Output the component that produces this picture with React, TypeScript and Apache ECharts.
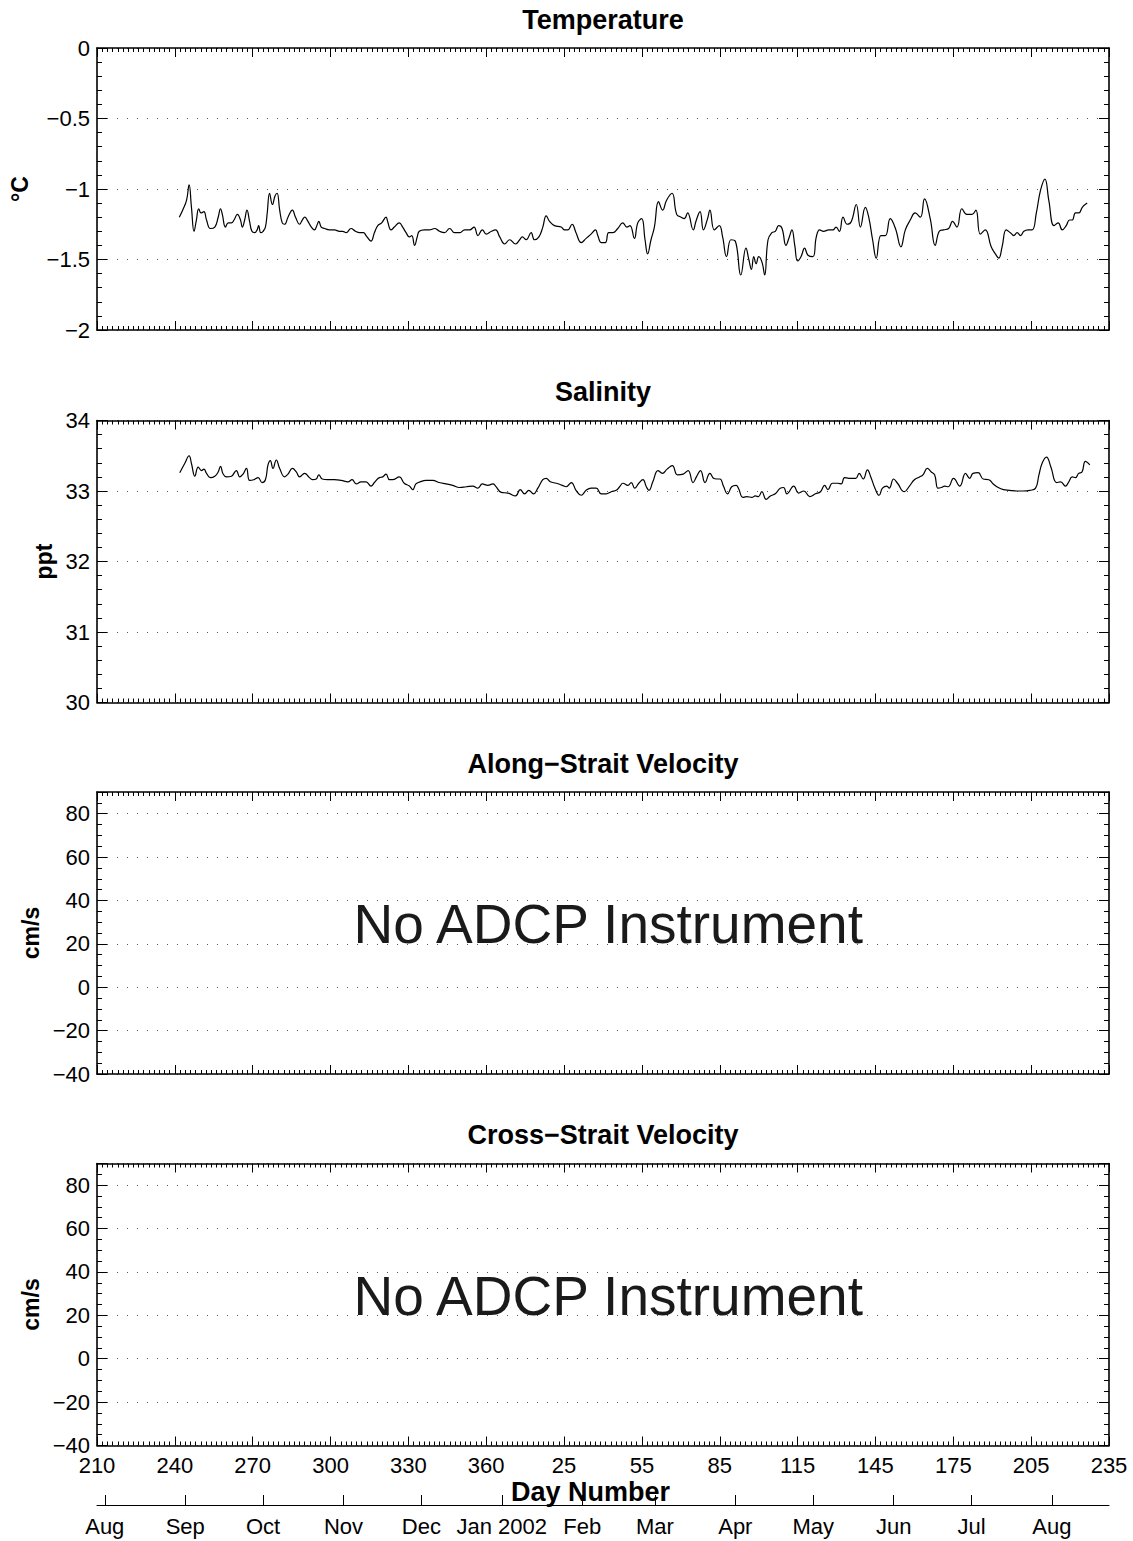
import React, { useEffect, useRef } from 'react';
import * as echarts from 'echarts';

// ---------------------------------------------------------------------------
// Data
// ---------------------------------------------------------------------------

// Continuous day axis: 2001 day numbers, then 2002 days offset by 365.
const dayMin = 210;
const dayMax = 600;
const dayStep = 30;

// Month boundaries on the continuous day axis and their labels.
const monthDays = [213, 244, 274, 305, 335, 366, 397, 425, 456, 486, 517, 547, 578];
const monthNames = ['Aug', 'Sep', 'Oct', 'Nov', 'Dec', 'Jan 2002', 'Feb', 'Mar', 'Apr', 'May', 'Jun', 'Jul', 'Aug'];

const panelTitles = ['Temperature', 'Salinity', 'Along\u2212Strait Velocity', 'Cross\u2212Strait Velocity'];
const panelUnits = ['\u00B0C', 'ppt', 'cm/s', 'cm/s'];

// Temperature (deg C) — [day, value]
const temperature: [number, number][] = [
  [241.7, -1.20], [243.0, -1.15], [244.5, -1.08], [245.5, -0.97], [246.4, -1.13], [247.4, -1.30], [248.3, -1.22],
  [249.2, -1.14], [250.1, -1.17], [251.2, -1.16], [252.2, -1.22], [253.7, -1.28], [255.4, -1.27], [256.7, -1.20],
  [257.6, -1.14], [258.3, -1.18], [259.5, -1.27], [260.6, -1.24], [261.8, -1.24], [262.8, -1.22], [264.1, -1.18],
  [265.3, -1.22], [266.0, -1.27], [266.9, -1.22], [267.8, -1.15], [268.8, -1.23], [269.7, -1.30], [270.8, -1.31],
  [271.7, -1.29], [272.3, -1.26], [273.1, -1.31], [274.0, -1.30], [274.9, -1.27], [275.6, -1.17], [276.5, -1.03],
  [277.6, -1.11], [278.6, -1.05], [279.4, -1.03], [280.4, -1.15], [281.4, -1.24], [282.3, -1.25], [283.6, -1.20],
  [285.3, -1.15], [286.5, -1.20], [288.1, -1.25], [289.1, -1.22], [290.1, -1.20], [291.3, -1.23], [292.6, -1.27],
  [293.8, -1.29], [294.7, -1.26], [295.5, -1.23], [296.4, -1.27], [297.7, -1.28], [299.6, -1.29], [301.5, -1.29],
  [303.5, -1.30], [304.7, -1.30], [306.0, -1.31], [307.9, -1.28], [309.6, -1.30], [311.2, -1.31], [312.7, -1.31],
  [313.7, -1.33], [315.6, -1.37], [316.9, -1.31], [318.2, -1.26], [319.7, -1.24], [321.4, -1.20], [322.0, -1.23],
  [323.3, -1.29], [324.6, -1.27], [326.5, -1.24], [327.8, -1.27], [329.1, -1.31], [330.4, -1.34], [331.3, -1.33],
  [332.4, -1.40], [333.4, -1.34], [334.2, -1.30], [336.2, -1.29], [338.1, -1.29], [340.1, -1.28], [342.0, -1.30],
  [343.9, -1.31], [345.9, -1.28], [347.8, -1.31], [349.7, -1.31], [351.7, -1.29], [353.6, -1.29], [355.3, -1.27],
  [356.8, -1.33], [358.5, -1.29], [360.0, -1.32], [362.0, -1.30], [363.6, -1.29], [365.2, -1.34], [367.1, -1.39],
  [369.0, -1.36], [371.3, -1.39], [372.9, -1.36], [373.9, -1.34], [375.4, -1.36], [377.3, -1.31], [378.6, -1.36],
  [380.3, -1.34], [381.8, -1.27], [383.1, -1.19], [384.4, -1.23], [386.3, -1.26], [388.9, -1.27], [390.2, -1.29],
  [391.4, -1.29], [393.1, -1.25], [394.6, -1.31], [396.6, -1.38], [398.5, -1.35], [400.4, -1.32], [402.1, -1.29],
  [403.0, -1.33], [404.3, -1.38], [405.9, -1.38], [407.2, -1.31], [408.8, -1.31], [410.7, -1.28], [412.6, -1.24],
  [414.2, -1.27], [415.4, -1.26], [417.1, -1.35], [418.4, -1.24], [419.9, -1.21], [421.2, -1.36], [422.2, -1.46],
  [423.5, -1.36], [424.8, -1.27], [426.4, -1.09], [428.0, -1.15], [429.5, -1.08], [431.6, -1.03], [433.4, -1.18],
  [435.1, -1.20], [436.3, -1.21], [437.6, -1.17], [439.8, -1.29], [440.8, -1.23], [442.4, -1.16], [443.7, -1.29],
  [445.3, -1.21], [446.2, -1.15], [447.9, -1.29], [449.8, -1.26], [451.1, -1.34], [452.6, -1.48], [454.3, -1.36],
  [456.0, -1.37], [458.1, -1.61], [460.1, -1.42], [461.2, -1.50], [462.2, -1.57], [463.1, -1.48], [464.0, -1.53],
  [465.0, -1.48], [466.3, -1.52], [467.3, -1.61], [468.6, -1.36], [470.1, -1.31], [471.4, -1.30], [472.7, -1.26],
  [474.0, -1.28], [475.5, -1.40], [476.8, -1.34], [477.8, -1.29], [478.9, -1.40], [480.0, -1.51], [481.3, -1.48],
  [482.7, -1.42], [484.0, -1.47], [485.9, -1.48], [487.2, -1.34], [488.5, -1.29], [490.0, -1.30], [492.0, -1.29],
  [493.6, -1.29], [494.8, -1.27], [496.1, -1.30], [497.5, -1.20], [499.1, -1.25], [500.7, -1.23], [502.6, -1.11],
  [504.2, -1.27], [506.1, -1.13], [507.4, -1.20], [508.9, -1.36], [510.3, -1.49], [512.1, -1.33], [513.8, -1.33],
  [515.7, -1.21], [517.7, -1.28], [519.8, -1.41], [521.5, -1.29], [523.4, -1.22], [525.3, -1.17], [527.3, -1.20],
  [528.9, -1.07], [531.1, -1.21], [533.0, -1.40], [534.6, -1.30], [536.2, -1.29], [538.2, -1.28], [539.7, -1.23],
  [541.4, -1.27], [543.3, -1.14], [545.2, -1.18], [547.2, -1.18], [548.7, -1.15], [550.4, -1.32], [552.3, -1.29],
  [554.6, -1.41], [556.2, -1.46], [557.5, -1.49], [558.8, -1.41], [560.4, -1.29], [562.0, -1.31], [563.3, -1.33],
  [564.6, -1.31], [565.9, -1.33], [567.2, -1.30], [568.8, -1.29], [570.4, -1.29], [572.0, -1.17], [573.6, -1.01],
  [575.3, -0.93], [576.8, -1.08], [578.8, -1.26], [580.4, -1.24], [582.0, -1.29], [583.5, -1.26], [584.8, -1.22],
  [585.8, -1.22], [587.1, -1.17], [588.4, -1.17], [589.7, -1.13], [591.6, -1.10],
];

// Salinity (ppt) — [day, value]
const salinity: [number, number][] = [
  [241.9, 33.26], [243.8, 33.39], [245.5, 33.50], [246.4, 33.39], [247.7, 33.21], [249.0, 33.34], [250.3, 33.29],
  [251.2, 33.31], [252.2, 33.25], [253.7, 33.19], [255.4, 33.21], [256.7, 33.27], [257.6, 33.35], [258.6, 33.24],
  [259.9, 33.20], [261.8, 33.21], [263.7, 33.29], [265.0, 33.20], [266.3, 33.24], [267.6, 33.32], [268.8, 33.15],
  [270.4, 33.16], [272.1, 33.19], [273.6, 33.12], [274.9, 33.16], [275.9, 33.37], [276.8, 33.43], [277.8, 33.32],
  [279.1, 33.44], [280.4, 33.32], [282.3, 33.20], [283.6, 33.24], [285.3, 33.32], [286.8, 33.27], [288.1, 33.20],
  [290.0, 33.25], [291.9, 33.19], [293.2, 33.16], [294.5, 33.17], [295.5, 33.23], [296.8, 33.17], [299.0, 33.16],
  [301.5, 33.16], [304.1, 33.15], [306.7, 33.13], [308.3, 33.16], [309.9, 33.10], [311.8, 33.13], [313.7, 33.13],
  [315.6, 33.07], [316.9, 33.12], [318.8, 33.19], [320.1, 33.20], [321.4, 33.24], [322.7, 33.16], [323.9, 33.16],
  [326.5, 33.20], [328.4, 33.11], [330.4, 33.07], [331.7, 33.02], [332.9, 33.10], [334.5, 33.13], [336.8, 33.15],
  [339.4, 33.15], [341.9, 33.12], [344.5, 33.10], [347.1, 33.08], [349.7, 33.05], [352.3, 33.06], [354.8, 33.07],
  [356.8, 33.04], [358.5, 33.10], [360.6, 33.08], [362.6, 33.10], [363.6, 33.07], [365.8, 32.98], [368.4, 32.97],
  [371.3, 32.93], [373.1, 33.02], [374.8, 32.96], [376.4, 33.01], [378.2, 32.96], [379.9, 33.04], [381.8, 33.16],
  [383.1, 33.18], [384.7, 33.13], [387.0, 33.11], [389.3, 33.08], [390.8, 33.06], [392.8, 33.12], [394.6, 33.01],
  [396.6, 32.94], [398.5, 33.01], [400.4, 33.04], [402.4, 33.04], [404.3, 32.96], [406.2, 32.96], [408.2, 32.99],
  [410.1, 33.01], [411.4, 33.06], [412.7, 33.11], [414.6, 33.08], [415.9, 33.12], [417.2, 33.04], [418.8, 33.11],
  [420.4, 33.16], [421.7, 33.06], [422.7, 33.01], [424.2, 33.13], [426.2, 33.29], [427.9, 33.25], [429.7, 33.31],
  [431.7, 33.36], [433.7, 33.23], [435.9, 33.24], [437.8, 33.29], [439.7, 33.12], [441.0, 33.20], [442.6, 33.29],
  [444.3, 33.12], [446.2, 33.25], [447.6, 33.18], [448.8, 33.17], [450.1, 33.17], [451.4, 33.07], [453.0, 32.96],
  [454.6, 33.06], [456.3, 33.08], [457.2, 33.04], [458.9, 32.91], [460.4, 32.92], [462.4, 32.91], [463.7, 32.93],
  [464.9, 32.92], [466.2, 32.99], [467.9, 32.88], [469.5, 32.93], [471.4, 32.96], [473.3, 33.04], [474.6, 33.05],
  [475.9, 32.96], [478.5, 33.07], [480.4, 32.97], [482.4, 33.00], [484.7, 32.92], [486.9, 32.96], [488.8, 32.99],
  [490.4, 33.08], [491.7, 33.02], [493.4, 33.11], [495.5, 33.11], [496.8, 33.10], [498.1, 33.19], [499.8, 33.18],
  [502.4, 33.18], [503.7, 33.25], [505.3, 33.17], [506.9, 33.30], [508.2, 33.20], [509.8, 33.04], [511.4, 32.94],
  [512.7, 33.04], [514.4, 33.07], [515.3, 33.04], [517.0, 33.17], [518.5, 33.11], [521.1, 32.99], [523.1, 33.07],
  [525.0, 33.16], [527.0, 33.20], [528.3, 33.23], [530.0, 33.32], [531.5, 33.27], [532.8, 33.23], [534.1, 33.04],
  [535.4, 33.05], [536.7, 33.07], [538.0, 33.06], [540.1, 33.18], [542.5, 33.07], [544.7, 33.25], [546.3, 33.18],
  [547.6, 33.25], [549.6, 33.26], [551.5, 33.17], [553.7, 33.16], [555.4, 33.10], [557.3, 33.05], [559.3, 33.02],
  [561.8, 33.01], [564.4, 33.00], [567.0, 33.00], [569.5, 33.01], [571.7, 33.04], [573.0, 33.23], [574.3, 33.40],
  [575.9, 33.48], [577.6, 33.34], [579.8, 33.12], [581.4, 33.13], [583.2, 33.07], [584.5, 33.13], [585.8, 33.20],
  [587.1, 33.19], [588.3, 33.25], [589.6, 33.27], [590.9, 33.42], [592.6, 33.37],
];

// Y scales for the four panels: min, max, labelled step, minor step
const yMins = [-2, 30, -40, -40];
const yMaxs = [0, 34, 90, 90];
const ySteps = [0.5, 1, 20, 20];
const yMinorSteps = [0.1, 0.2, 5, 5];

const noDataMessage = 'No ADCP Instrument';
const noDataAnchor: [number, number] = [407, 29];

// ---------------------------------------------------------------------------
// Layout
// ---------------------------------------------------------------------------
const WIDTH = 1133;
const HEIGHT = 1541;
const PLOT_LEFT = 97;
const PLOT_RIGHT = 1109;
const PANEL_TOPS = [48, 420.5, 792, 1163.5];
const PANEL_H = 282;
const MONTH_AXIS_Y = 1505;
const UNIT_X = [20, 44, 31, 31];

const FONT = '"Liberation Sans", Arial, Helvetica, sans-serif';
const BLACK = '#000';
const TICK_FONT = 22;

const signed = (v: number) => (v < 0 ? '\u2212' + String(Math.abs(v)) : String(v));

function buildOption() {
  const plotW = PLOT_RIGHT - PLOT_LEFT;
  const grid: any[] = PANEL_TOPS.map((top) => ({
    left: PLOT_LEFT, top, width: plotW, height: PANEL_H, outerBoundsMode: 'none', containLabel: false,
  }));
  grid.push({ left: PLOT_LEFT, top: MONTH_AXIS_Y - 1, width: plotW, height: 1, outerBoundsMode: 'none', containLabel: false });

  const tickStyle = { color: BLACK, width: 1 };
  const frameLine = { show: true, onZero: false, lineStyle: { color: BLACK, width: 1.6 } };

  const xAxis: any[] = [];
  const yAxis: any[] = [];
  const mainY: number[] = [];
  const bottomX: number[] = [];

  PANEL_TOPS.forEach((_, i) => {
    const isLast = i === PANEL_TOPS.length - 1;
    (['bottom', 'top'] as const).forEach((position) => {
      if (position === 'bottom') bottomX.push(xAxis.length);
      xAxis.push({
        type: 'value', gridIndex: i, position, min: dayMin, max: dayMax, interval: dayStep,
        axisLine: frameLine,
        axisTick: { show: true, inside: true, length: 9, lineStyle: tickStyle },
        minorTick: { show: true, splitNumber: 15, length: 4, lineStyle: tickStyle },
        axisLabel: {
          show: isLast && position === 'bottom', margin: 9, color: BLACK, fontSize: TICK_FONT, fontFamily: FONT,
          showMinLabel: true, showMaxLabel: true,
          formatter: (v: number) => String(v > 365 ? v - 365 : v),
        },
        splitLine: { show: false },
      });
    });

    const min = yMins[i];
    const max = yMaxs[i];
    const step = ySteps[i];
    const minorSplit = Math.round(step / yMinorSteps[i]);
    const evenSplit = Math.abs((max - min) / step - Math.round((max - min) / step)) < 1e-6;

    (['left', 'right'] as const).forEach((position) => {
      if (position === 'left') mainY.push(yAxis.length);
      yAxis.push({
        type: 'value', gridIndex: i, position, min, max, interval: step,
        axisLine: frameLine,
        axisTick: { show: true, inside: true, length: 10, lineStyle: tickStyle },
        minorTick: { show: evenSplit, splitNumber: minorSplit, length: 5, lineStyle: tickStyle },
        axisLabel: {
          show: position === 'left', margin: 7, color: BLACK, fontSize: TICK_FONT, fontFamily: FONT,
          showMinLabel: true, showMaxLabel: true,
          formatter: (v: number) => {
            const k = (v - min) / step;
            return Math.abs(k - Math.round(k)) < 1e-6 ? signed(v) : '';
          },
        },
        splitLine: position === 'left'
          ? { show: true, lineStyle: { color: '#555', width: 1, type: [1, 9] } }
          : { show: false },
      });
      if (!evenSplit) {
        // Finer tick marks for scales whose range is not a whole number of labelled steps
        yAxis.push({
          type: 'value', gridIndex: i, position, min, max, interval: yMinorSteps[i],
          axisLine: { show: false, onZero: false },
          axisTick: { show: true, inside: true, length: 5, lineStyle: tickStyle },
          axisLabel: { show: false },
          splitLine: { show: false },
        });
      }
    });
  });

  // Month axis below the panels
  xAxis.push({
    type: 'value', gridIndex: 4, position: 'bottom', min: dayMin, max: dayMax,
    axisLine: { show: true, onZero: false, lineStyle: { color: BLACK, width: 1 } },
    axisTick: { show: true, inside: true, length: 10, customValues: monthDays, lineStyle: tickStyle },
    axisLabel: {
      show: true, margin: 10, color: BLACK, fontSize: TICK_FONT, fontFamily: FONT,
      customValues: monthDays, showMinLabel: true, showMaxLabel: true,
      formatter: (v: number) => monthNames[monthDays.indexOf(v)] ?? '',
    },
    splitLine: { show: false },
  });
  yAxis.push({ type: 'value', gridIndex: 4, min: 0, max: 1, show: false });

  const lineSeries = (data: [number, number][], panel: number) => ({
    type: 'line', data, xAxisIndex: bottomX[panel], yAxisIndex: mainY[panel],
    showSymbol: false, symbol: 'none', smooth: 0.45, silent: true,
    lineStyle: { color: BLACK, width: 1.2 },
  });

  const messageSeries = (panel: number) => ({
    type: 'scatter', data: [noDataAnchor], xAxisIndex: bottomX[panel], yAxisIndex: mainY[panel],
    symbolSize: 1, itemStyle: { color: 'rgba(0,0,0,0)', opacity: 1 }, silent: true,
    label: {
      show: true, position: 'inside', formatter: noDataMessage, color: '#1a1a1a', opacity: 1,
      fontSize: 55, fontFamily: FONT, align: 'center', verticalAlign: 'middle',
    },
  });

  const centreX = (PLOT_LEFT + PLOT_RIGHT) / 2;
  const textStyle = (text: string, size: number) => ({
    text, fill: BLACK, fontSize: size, fontWeight: 'bold', fontFamily: FONT,
    align: 'center', verticalAlign: 'middle', textAlign: 'center', textVerticalAlign: 'middle',
  });

  const graphic: any[] = [
    ...panelTitles.map((t, i) => ({
      type: 'text', x: centreX, y: PANEL_TOPS[i] - 28.5, silent: true, style: textStyle(t, 27),
    })),
    ...panelUnits.map((u, i) => ({
      type: 'text', x: UNIT_X[i], y: PANEL_TOPS[i] + PANEL_H / 2, rotation: Math.PI / 2, silent: true,
      style: textStyle(u, 23),
    })),
    { type: 'text', x: 590.5, y: 1492, silent: true, style: textStyle('Day Number', 27) },
  ];

  return {
    animation: false,
    backgroundColor: '#fff',
    grid,
    xAxis,
    yAxis,
    series: [
      lineSeries(temperature, 0),
      lineSeries(salinity, 1),
      messageSeries(2),
      messageSeries(3),
    ],
    graphic,
  };
}

export default function App() {
  const ref = useRef<HTMLDivElement>(null);

  useEffect(() => {
    if (!ref.current) return;
    const chart = echarts.init(ref.current, undefined, { renderer: 'svg', width: WIDTH, height: HEIGHT });
    chart.setOption(buildOption() as any);
    return () => chart.dispose();
  }, []);

  return (
    <div
      ref={ref}
      style={{ position: 'absolute', left: 0, top: 0, width: WIDTH, height: HEIGHT, background: '#fff' }}
    />
  );
}
